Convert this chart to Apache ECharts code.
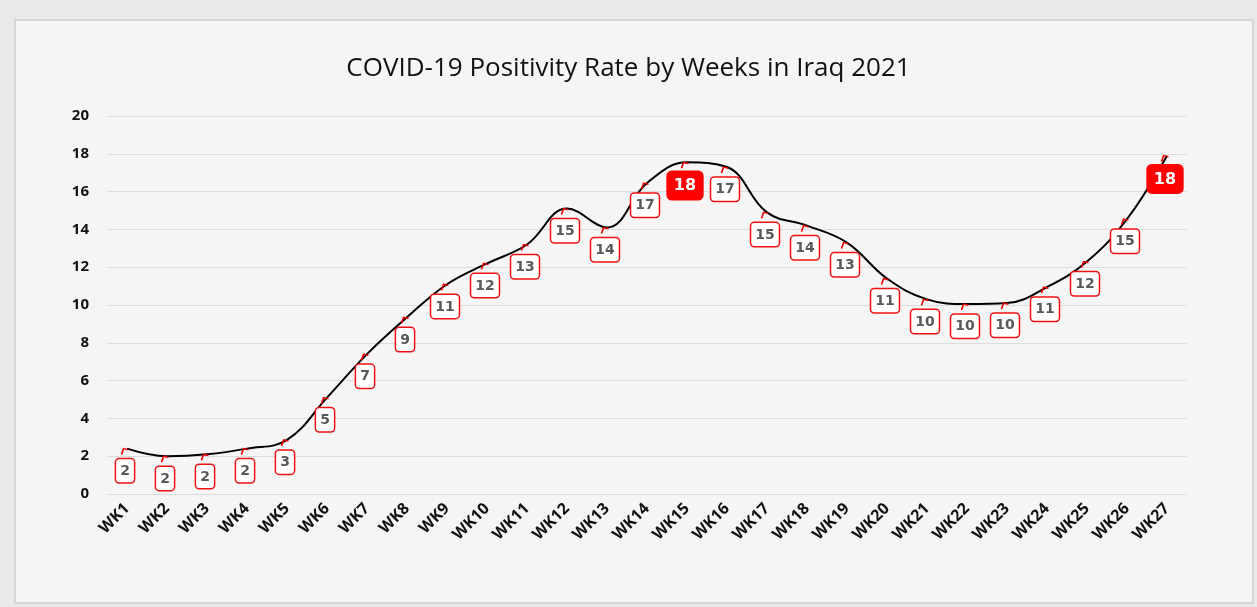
<!DOCTYPE html>
<html>
<head>
<meta charset="utf-8">
<script src="https://cdn.jsdelivr.net/npm/echarts@6/dist/echarts.min.js"></script>
<style>
  html, body { margin: 0; padding: 0; background: #e9e9e9; }
  #chart { width: 1257px; height: 607px; }
</style>
</head>
<body>
<div id="chart"></div>
<script>
var titleText = 'COVID-19 Positivity Rate by Weeks in Iraq 2021';
var weeks = ['WK1','WK2','WK3','WK4','WK5','WK6','WK7','WK8','WK9','WK10','WK11','WK12','WK13','WK14','WK15','WK16','WK17','WK18','WK19','WK20','WK21','WK22','WK23','WK24','WK25','WK26','WK27'];
var positivity = [2.4, 2.0, 2.1, 2.4, 2.86, 5.1, 7.4, 9.35, 11.1, 12.2, 13.2, 15.1, 14.1, 16.45, 17.55, 17.3, 14.9, 14.2, 13.3, 11.4, 10.3, 10.05, 10.1, 10.95, 12.3, 14.55, 17.9];
var shownLabels = [2, 2, 2, 2, 3, 5, 7, 9, 11, 12, 13, 15, 14, 17, 18, 17, 15, 14, 13, 11, 10, 10, 10, 11, 12, 15, 18];
var yTicks = [0, 2, 4, 6, 8, 10, 12, 14, 16, 18, 20];

var maxShown = Math.max.apply(null, shownLabels);
var seriesData = positivity.map(function (v, i) {
  var isMax = shownLabels[i] === maxShown;
  var item = { value: v };
  if (isMax) {
    item.label = {
      backgroundColor: '#ff0000',
      borderColor: '#ff0000',
      color: '#ffffff',
      fontSize: 16,
      padding: [6, 6, 5, 6],
      borderRadius: 4,
      distance: 3
    };
  }
  return item;
});

var chart = echarts.init(document.getElementById('chart'));
chart.setOption({
  animation: false,
  backgroundColor: '#e9e9e9',
  graphic: [{
    type: 'rect',
    z: -10,
    shape: { x: 15, y: 20, width: 1238, height: 583 },
    style: { fill: '#f5f5f5', stroke: '#d6d6d6', lineWidth: 2 }
  }],
  title: {
    text: titleText,
    left: 'center',
    top: 51,
    textStyle: { fontFamily: 'Open Sans', fontWeight: 'normal', fontSize: 26, color: '#111' }
  },
  grid: { left: 107, right: 70, top: 116, bottom: 113, containLabel: false },
  xAxis: {
    type: 'category',
    data: weeks,
    boundaryGap: true,
    axisLine: { show: false },
    axisTick: { show: false },
    axisLabel: {
      rotate: 45,
      interval: 0,
      margin: 12,
      fontFamily: 'Open Sans',
      fontWeight: 'bold',
      fontSize: 16,
      color: '#111'
    }
  },
  yAxis: {
    type: 'value',
    min: yTicks[0],
    max: yTicks[yTicks.length - 1],
    interval: yTicks[1] - yTicks[0],
    axisLine: { show: false },
    axisTick: { show: false },
    splitLine: { lineStyle: { color: '#dcdcdc', width: 1 } },
    axisLabel: {
      margin: 18,
      fontFamily: 'Open Sans',
      fontWeight: 'bold',
      fontSize: 15,
      color: '#111'
    }
  },
  series: [{
    type: 'line',
    data: seriesData,
    smooth: 0.4,
    symbol: 'path://M0,10 L3,0 L10,2',
    symbolSize: [7, 6],
    symbolOffset: [-2, 3],
    itemStyle: { color: 'transparent', borderColor: '#ee0000', borderWidth: 1.5 },
    lineStyle: { color: '#000', width: 2 },
    label: {
      show: true,
      position: 'bottom',
      distance: 4,
      formatter: function (p) { return String(shownLabels[p.dataIndex]); },
      fontFamily: 'DejaVu Sans',
      fontWeight: 'bold',
      fontSize: 14,
      color: '#595959',
      backgroundColor: '#ffffff',
      borderColor: '#ee1111',
      borderWidth: 1.5,
      borderRadius: 3,
      padding: [5, 4, 4, 4]
    },
    labelLayout: { hideOverlap: false }
  }]
});
</script>
</body>
</html>
